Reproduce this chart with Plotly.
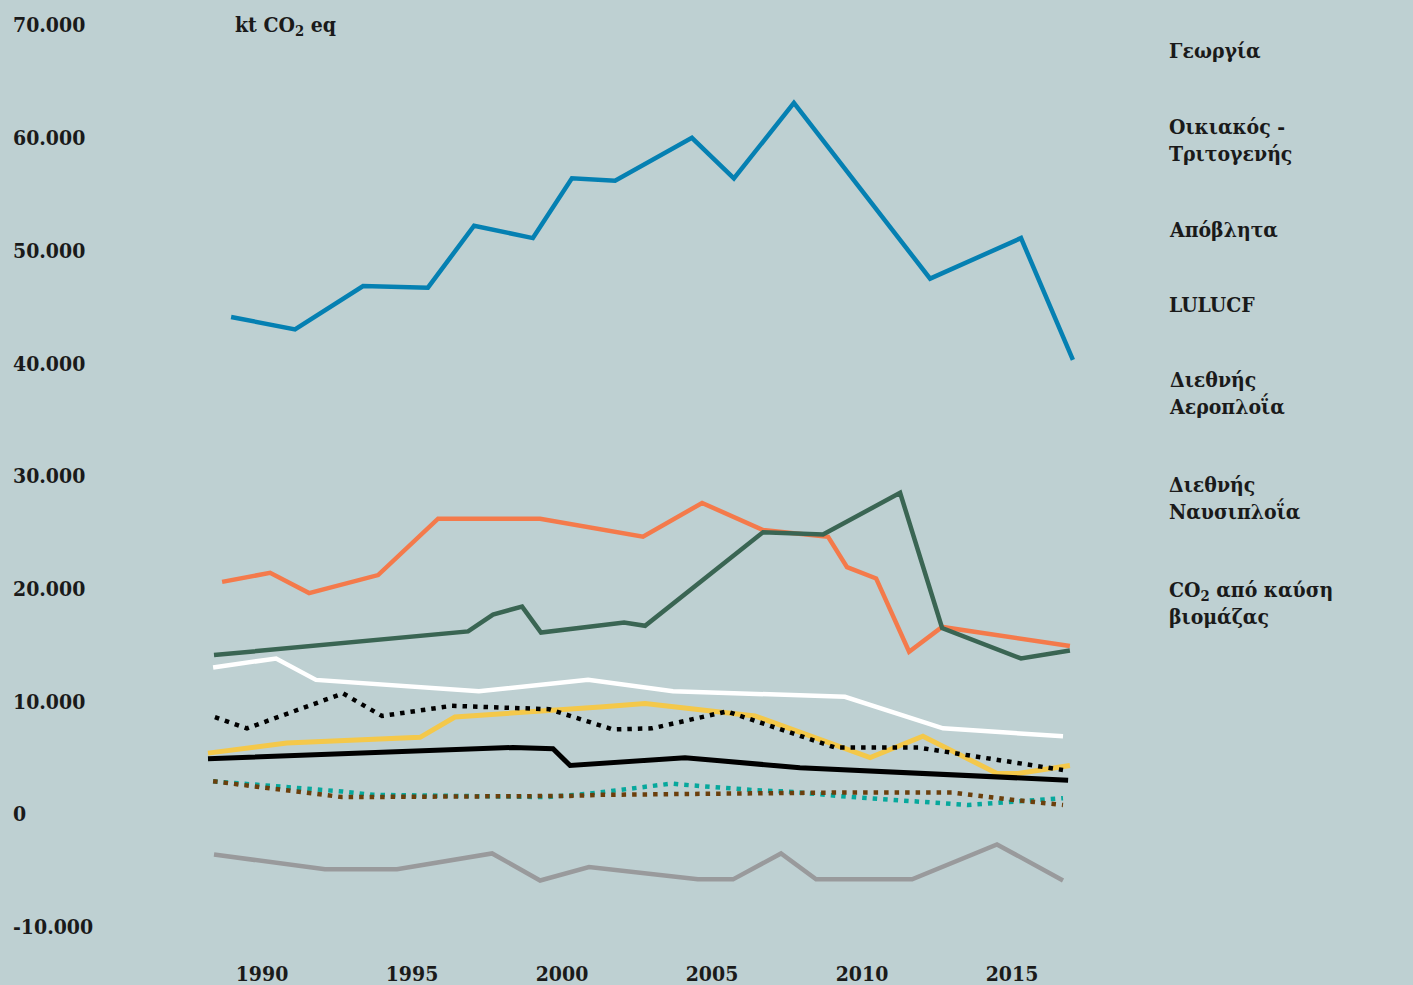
import plotly.graph_objects as go

# ---------------- data (kt CO2 eq) ----------------
blue_x = [1988.97, 1991.1, 1993.37, 1995.53, 1997.07, 1999.03, 2000.33, 2001.77, 2004.33, 2005.73, 2007.73, 2012.27, 2015.3, 2017.03]
blue_y = [44100, 43000, 46850, 46700, 52200, 51100, 56400, 56200, 60000, 56400, 63100, 47500, 51100, 40300]

orange_x = [1988.67, 1990.27, 1991.57, 1993.87, 1995.87, 1999.27, 2002.7, 2004.67, 2006.7, 2008.87, 2009.5, 2010.47, 2011.57, 2012.67, 2016.93]
orange_y = [20600, 21400, 19600, 21200, 26200, 26200, 24600, 27600, 25200, 24600, 21900, 20900, 14400, 16600, 14900]

green_x = [1988.4, 1996.87, 1997.7, 1998.67, 1999.3, 2002.07, 2002.77, 2006.7, 2008.7, 2011.27, 2012.67, 2015.3, 2016.93]
green_y = [14100, 16200, 17700, 18400, 16100, 17000, 16700, 25000, 24800, 28500, 16500, 13800, 14500]

white_x = [1988.37, 1990.47, 1991.8, 1997.23, 2000.87, 2003.7, 2009.43, 2012.7, 2016.7]
white_y = [13000, 13800, 11900, 10900, 11900, 10900, 10400, 7600, 6900]

yellow_x = [1988.2, 1990.83, 1995.27, 1996.43, 2001.27, 2002.77, 2006.43, 2010.27, 2012.03, 2014.5, 2015.2, 2016.93]
yellow_y = [5400, 6300, 6800, 8600, 9500, 9800, 8700, 5000, 6900, 3600, 3600, 4300]

black_x = [1988.2, 1998.37, 1999.7, 2000.27, 2004.1, 2007.93, 2016.87]
black_y = [4900, 5900, 5800, 4300, 5000, 4100, 3000]

blackdot_x = [1988.43, 1989.5, 1992.7, 1994.0, 1996.33, 1999.57, 2001.7, 2003.0, 2005.5, 2009.1, 2011.87, 2012.37, 2016.7]
blackdot_y = [8600, 7600, 10700, 8700, 9600, 9300, 7500, 7600, 9100, 5900, 5900, 5700, 3900]

teal_x = [1988.37, 1990.87, 1992.67, 1993.7, 1999.5, 2000.87, 2003.67, 2004.03, 2006.5, 2007.5, 2009.67, 2013.53, 2016.7]
teal_y = [2900, 2400, 2000, 1700, 1500, 1800, 2700, 2600, 2100, 2000, 1500, 800, 1400]

brown_x = [1988.37, 1990.5, 1992.67, 2000.17, 2001.27, 2009.03, 2013.03, 2014.87, 2016.7]
brown_y = [2900, 2200, 1500, 1600, 1700, 1900, 1900, 1300, 800]

gray_x = [1988.4, 1992.1, 1994.5, 1997.67, 1999.27, 2000.9, 2004.53, 2005.7, 2007.3, 2008.47, 2011.67, 2014.5, 2016.7]
gray_y = [-3600, -4900, -4900, -3500, -5900, -4700, -5800, -5800, -3500, -5800, -5800, -2700, -5900]

x_ticks = [1990, 1995, 2000, 2005, 2010, 2015]
y_ticks = [-10000, 0, 10000, 20000, 30000, 40000, 50000, 60000, 70000]
y_ticktext = ["-10.000", "0", "10.000", "20.000", "30.000", "40.000", "50.000", "60.000", "70.000"]

labels = ["Γεωργία", "Οικιακός -<br>Τριτογενής", "Απόβλητα", "LULUCF",
          "Διεθνής<br>Αεροπλοΐα", "Διεθνής<br>Ναυσιπλοΐα", "CO<sub>2</sub> από καύση<br>βιομάζας"]
unit_label = "kt CO<sub>2</sub> eq"

# ---------------- figure ----------------
FONT = "DejaVu Serif Condensed, DejaVu Serif"
WEIGHT = "bold"
TXT = "#1a1a1a"
BG = "#BED0D2"

fig = go.Figure()

def add(x, y, color, width=4.5, dash="solid"):
    fig.add_trace(go.Scatter(x=x, y=y, mode="lines",
                             line=dict(color=color, width=width, dash=dash),
                             hoverinfo="skip", showlegend=False))

add(gray_x, gray_y, "#999a9c", 4.5)
add(blue_x, blue_y, "#0580B2", 4.5)
add(orange_x, orange_y, "#F47A4B", 4.5)
add(green_x, green_y, "#3A6553", 4.5)
add(white_x, white_y, "#FFFFFF", 4.5)
add(yellow_x, yellow_y, "#F4C84A", 5)
add(black_x, black_y, "#000000", 5)
add(teal_x, teal_y, "#06A89C", 4.5, "4.5px,6px")
add(brown_x, brown_y, "#6B3F0C", 4.5, "4.5px,6px")
add(blackdot_x, blackdot_y, "#000000", 4.5, "4.5px,6px")

fnt = dict(family=FONT, size=21, color=TXT, weight=WEIGHT)

L, R, T, B = 10, 13, 10, 28
W, H = 1413, 985
fig.update_layout(
    width=W, height=H,
    margin=dict(l=L, r=R, t=T, b=B, autoexpand=False),
    paper_bgcolor=BG, plot_bgcolor=BG,
    font=fnt,
    showlegend=False,
    xaxis=dict(range=[1981.6, 2027.933], tickvals=x_ticks, ticktext=[str(v) for v in x_ticks],
               showgrid=False, zeroline=False, showline=False, ticks="",
               automargin=False, ticklabelstandoff=2, tickfont=fnt),
    yaxis=dict(range=[-12689, 71340], tickvals=y_ticks, ticktext=y_ticktext,
               ticklabelposition="inside", showgrid=False, zeroline=False,
               showline=False, ticks="", automargin=False, tickfont=fnt),
)

pw = W - L - R
ph = H - T - B
label_px_y = [50, 139.5, 229, 304, 393.5, 498.5, 602.5]
for txt, py in zip(labels, label_px_y):
    fig.add_annotation(text=txt, xref="paper", yref="paper",
                       x=(1167 - L) / pw, y=(H - B - py) / ph,
                       xanchor="left", yanchor="middle", align="left",
                       showarrow=False, font=fnt)

fig.add_annotation(text=unit_label, xref="paper", yref="paper",
                   x=(233 - L) / pw, y=(H - B - 25) / ph,
                   xanchor="left", yanchor="middle", showarrow=False, font=fnt)

fig.write_html("out.html", config={"displayModeBar": False},
               post_script="document.body.style.margin='0px';document.body.style.background='%s';" % BG)
